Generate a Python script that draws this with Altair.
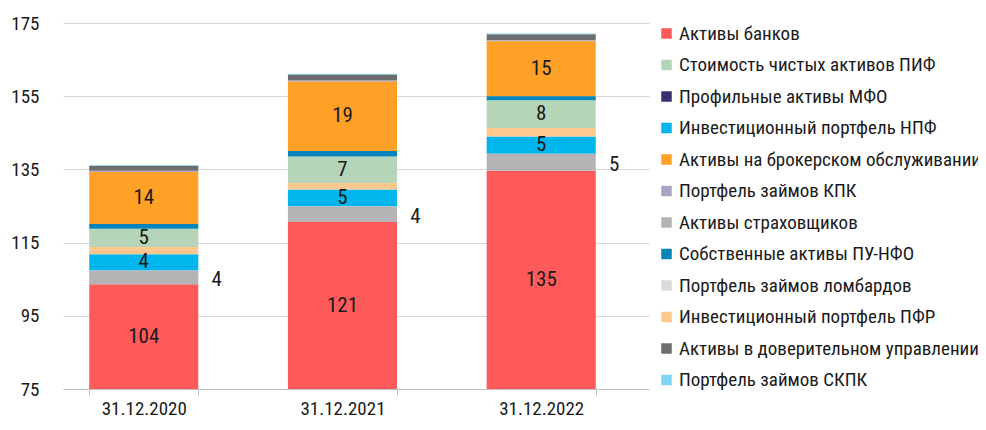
import altair as alt
import pandas as pd

dates = ["31.12.2020", "31.12.2021", "31.12.2022"]

# legend order
series = [
    "Активы банков",
    "Стоимость чистых активов ПИФ",
    "Профильные активы МФО",
    "Инвестиционный портфель НПФ",
    "Активы на брокерском обслуживании",
    "Портфель займов КПК",
    "Активы страховщиков",
    "Собственные активы ПУ-НФО",
    "Портфель займов ломбардов",
    "Инвестиционный портфель ПФР",
    "Активы в доверительном управлении",
    "Портфель займов СКПК",
]
colors = [
    "#FF5A5A", "#B5D5B8", "#3B2E6E", "#00B6EC", "#FFA126", "#A7A5C6",
    "#B4B4B6", "#0784BA", "#D9D9D9", "#FFC88C", "#6D6D70", "#7FD3F3",
]

# values per date (trln RUB)
banks = [103.6, 120.6, 134.6]
pif = [5.0, 7.2, 7.6]
mfo = [0.1, 0.1, 0.1]
npf = [4.4, 4.6, 4.7]
broker = [14.2, 19.0, 15.0]
kpk = [0.1, 0.1, 0.1]
insurers = [3.8, 4.3, 4.7]
punfo = [1.3, 1.5, 1.1]
lombard = [0.1, 0.1, 0.1]
pfr = [2.0, 1.8, 2.3]
trust = [1.4, 1.6, 1.6]
skpk = [0.2, 0.2, 0.2]

y_ticks = [75, 95, 115, 135, 155, 175]

values = [banks, pif, mfo, npf, broker, kpk, insurers, punfo, lombard, pfr, trust, skpk]
# stacking order (bottom -> top)
stack_order = [0, 4, 7, 2, 6, 8, 1, 5, 9, 3, 10, 11]
inside_labels = [series[0], series[1], series[3], series[4]]
outside_labels = [series[6]]

rows = []
for s, vals, o in zip(series, values, stack_order):
    for d, v in zip(dates, vals):
        rows.append({"date": d, "series": s, "value": v, "ord": o})
df = pd.DataFrame(rows)

FONT = "Liberation Sans Narrow, Roboto Condensed, Roboto, sans-serif"
ymin = y_ticks[0]

base = alt.Chart(df).transform_stack(
    stack="value", groupby=["date"], as_=["y0", "y1"],
    sort=[alt.SortField("ord", order="ascending")],
).transform_calculate(mid=f"(max(datum.y0, {ymin}) + datum.y1) / 2")

xenc = alt.X(
    "date:N", title=None, sort=dates,
    scale=alt.Scale(paddingInner=0.451, paddingOuter=0.2, align=0.33),
    axis=alt.Axis(labelAngle=0, labelFontSize=19, labelPadding=4, tickBand="extent",
                  domainColor="#BFBFBF", tickColor="#BFBFBF", tickSize=6,
                  labelColor="#1A1A1A", labelFont=FONT),
)
yscale = alt.Scale(domain=[y_ticks[0], y_ticks[-1]], clamp=True, nice=False, zero=False)

bars = base.mark_bar().encode(
    x=xenc,
    y=alt.Y("y0:Q", title=None, scale=yscale,
            axis=alt.Axis(values=y_ticks, domain=False, ticks=False,
                          labelPadding=24, labelFontSize=19, gridColor="#D9D9D9",
                          labelColor="#1A1A1A", labelFont=FONT)),
    y2="y1:Q",
    color=alt.Color("series:N", scale=alt.Scale(domain=series, range=colors),
                    legend=alt.Legend(orient="none", legendX=594, legendY=1, title=None,
                                      symbolType="square", symbolSize=110, symbolStrokeWidth=0,
                                      labelFontSize=19, labelFont=FONT, labelColor="#1A1A1A",
                                      rowPadding=11.5, labelOffset=3, padding=0, labelLimit=600)),
)

txt_in = base.transform_filter(
    alt.FieldOneOfPredicate(field="series", oneOf=inside_labels)
).mark_text(fontSize=21, font=FONT, color="#1A1A1A").encode(
    x=alt.X("date:N", sort=dates),
    y=alt.Y("mid:Q", scale=yscale),
    text=alt.Text("value:Q", format=".0f"),
)
txt_out = base.transform_filter(
    alt.FieldOneOfPredicate(field="series", oneOf=outside_labels)
).mark_text(fontSize=21, font=FONT, color="#1A1A1A", dx=73, dy=3).encode(
    x=alt.X("date:N", sort=dates),
    y=alt.Y("mid:Q", scale=yscale),
    text=alt.Text("value:Q", format=".0f"),
)

chart = alt.layer(bars, txt_in, txt_out).properties(
    width=586, height=366,
    autosize=alt.AutoSizeParams(type="none"),
    padding={"left": 55, "top": 15, "right": 329, "bottom": 33},
).configure_view(stroke=None)

chart.save("out.html", embed_options={"renderer": "svg", "actions": False})
